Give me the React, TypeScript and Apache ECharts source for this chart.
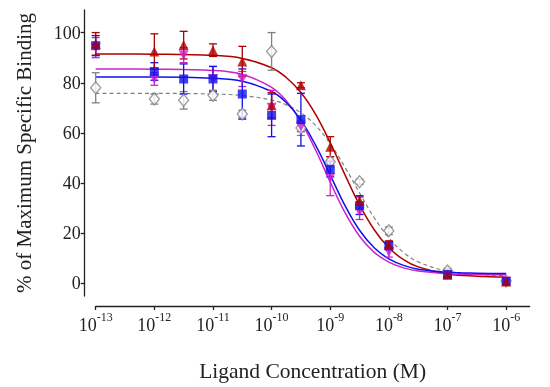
import React, { useEffect, useRef } from "react";
import * as echarts from "echarts";

// log10 of ligand concentration (M) for measured points
const pointLogConc = [-13, -12, -11.5, -11, -10.5, -10, -9.5, -9, -8.5, -8, -7, -6];

const redMean = [95.5, 92.5, 95, 93, 88.5, 71, 79, 54.5, 33, 15.5, 3.5, 0.8];
const redErr = [4.5, 7, 5.5, 2.5, 6, 5, 1, 4, 2, 1.5, 1, 0.8];

const magentaMean = [94, 81.5, 91, 81.5, 81.5, 70, 62.5, 42, 28.5, 12.5, 3.5, 0.8];
const magentaErr = [4, 2.5, 3, 5, 3, 7, 2, 7, 3, 2, 1, 0.8];

const blueMean = [94.8, 84.5, 81.5, 81.5, 75.5, 67, 65.3, 45.5, 31, 15, 3.5, 0.8];
const blueErr = [4, 3.5, 6, 5, 10, 8.5, 10.5, 3, 3.5, 1.5, 1, 0.8];

const grayMean = [78, 73.5, 73, 75, 67.5, 92.5, 62, 48.5, 40.5, 21, 5, 1];
const grayErr = [6, 2, 3.5, 2, 1.5, 7.5, 3, 2, 1, 1.5, 1, 0.5];

// fitted curves
const curveLogConc = [-13, -12, -11, -10.5, -10, -9.75, -9.5, -9.25, -9, -8.75, -8.5, -8.25, -8, -7.75, -7.5, -7, -6.5, -6];
const redFit = [91.5, 91.4, 90.9, 89.7, 86.0, 82.1, 76.1, 67.4, 56.1, 43.4, 31.3, 21.4, 14.2, 9.5, 6.6, 3.8, 2.9, 2.6];
const blueFit = [82.3, 82.3, 81.8, 80.6, 76.5, 72.1, 65.1, 55.1, 43.2, 31.1, 21.2, 14.2, 9.8, 7.2, 5.7, 4.5, 4.1, 4.0];
const magentaFit = [85.5, 85.4, 84.9, 83.3, 78.2, 72.8, 64.5, 53.2, 40.4, 28.3, 18.8, 12.4, 8.5, 6.2, 5.0, 3.9, 3.6, 3.5];
const grayFit = [75.8, 75.8, 75.5, 74.9, 73.1, 71.2, 68.0, 63.0, 55.7, 46.4, 36.1, 26.2, 18.2, 12.4, 8.6, 4.9, 3.6, 3.2];

const xTicks = [-13, -12, -11, -10, -9, -8, -7, -6];
const yTicks = [0, 20, 40, 60, 80, 100];

const FONT = "'Liberation Serif', 'DejaVu Serif', serif";
const RED = "#b00000";
const MAGENTA = "#cc22cc";
const BLUE = "#1010ee";
const GRAY = "#808080";

function pts(mean: number[]) {
  return pointLogConc.map((x, i) => [x, mean[i]]);
}
function errs(mean: number[], err: number[]) {
  return pointLogConc.map((x, i) => [x, mean[i] - err[i], mean[i] + err[i]]);
}
function curve(fit: number[]) {
  return curveLogConc.map((x, i) => [x, fit[i]]);
}

function errorSeries(name: string, mean: number[], err: number[], color: string) {
  return {
    type: "custom",
    name: name + "-err",
    data: errs(mean, err),
    encode: { x: 0, y: [1, 2] },
    z: 3,
    renderItem: (params: any, api: any) => {
      const x = api.value(0);
      const lo = api.coord([x, api.value(1)]);
      const hi = api.coord([x, api.value(2)]);
      const w = 4;
      const style = { stroke: color, lineWidth: 1.3 };
      return {
        type: "group",
        children: [
          { type: "line", shape: { x1: lo[0], y1: lo[1], x2: hi[0], y2: hi[1] }, style },
          { type: "line", shape: { x1: hi[0] - w, y1: hi[1], x2: hi[0] + w, y2: hi[1] }, style },
          { type: "line", shape: { x1: lo[0] - w, y1: lo[1], x2: lo[0] + w, y2: lo[1] }, style },
        ],
      };
    },
  };
}

function curveSeries(fit: number[], color: string, dashed = false) {
  return {
    type: "line",
    data: curve(fit),
    smooth: 0.4,
    showSymbol: false,
    symbol: "none",
    z: 2,
    lineStyle: { color, width: dashed ? 1.2 : 1.5, type: dashed ? [4, 3] : "solid" },
  };
}

export default function App() {
  const ref = useRef<HTMLDivElement>(null);
  useEffect(() => {
    if (!ref.current) return;
    const chart = echarts.init(ref.current, null, { renderer: "svg" });
    chart.setOption({
      animation: false,
      grid: { left: 95.7, right: 20.4, top: 10, bottom: 88.9 },
      xAxis: {
        type: "value",
        min: -13,
        max: -5.6,
        offset: 10,
        axisLine: { show: true, onZero: false, lineStyle: { color: "#222", width: 1.3 } },
        axisTick: { show: true, length: 4, customValues: xTicks, lineStyle: { color: "#222", width: 1.3 } },
        axisLabel: {
          customValues: xTicks,
          margin: 5,
          formatter: (v: number) => `{b|10}{s|${v}}`,
          rich: {
            b: { fontSize: 18, fontFamily: FONT, color: "#222", verticalAlign: "bottom", lineHeight: 23 },
            s: { fontSize: 12, fontFamily: FONT, color: "#222", verticalAlign: "top", lineHeight: 23 },
          },
        },
        splitLine: { show: false },
        name: "Ligand Concentration (M)",
        nameLocation: "middle",
        nameGap: 54,
        nameTextStyle: { fontSize: 21.5, fontFamily: FONT, color: "#222" },
      },
      yAxis: {
        type: "value",
        min: -5,
        max: 109,
        offset: 11,
        axisLine: { show: true, onZero: false, lineStyle: { color: "#222", width: 1.3 } },
        axisTick: { show: true, length: 4, customValues: yTicks, lineStyle: { color: "#222", width: 1.3 } },
        axisLabel: { customValues: yTicks, margin: 4, fontSize: 18, fontFamily: FONT, color: "#222" },
        splitLine: { show: false },
        name: "% of Maximum Specific Binding",
        nameLocation: "middle",
        nameRotate: 90,
        nameGap: 50,
        nameTextStyle: { fontSize: 21, fontFamily: FONT, color: "#222" },
      },
      series: [
        curveSeries(grayFit, GRAY, true),
        curveSeries(redFit, RED),
        curveSeries(magentaFit, MAGENTA),
        curveSeries(blueFit, BLUE),
        errorSeries("gray", grayMean, grayErr, GRAY),
        errorSeries("magenta", magentaMean, magentaErr, MAGENTA),
        errorSeries("blue", blueMean, blueErr, BLUE),
        errorSeries("red", redMean, redErr, RED),
        {
          type: "scatter",
          data: pts(grayMean),
          symbol: "diamond",
          symbolSize: [10, 12],
          z: 4,
          itemStyle: { color: "#fff", borderColor: GRAY, borderWidth: 1.3 },
        },
        {
          type: "scatter",
          data: pts(magentaMean),
          symbol: "triangle",
          symbolRotate: 180,
          symbolSize: 10,
          z: 4,
          itemStyle: { color: MAGENTA },
        },
        {
          type: "scatter",
          data: pts(blueMean),
          symbol: "rect",
          symbolSize: 9,
          z: 4,
          itemStyle: { color: BLUE },
        },
        {
          type: "scatter",
          data: pts(redMean),
          symbol: "triangle",
          symbolSize: 10,
          z: 4,
          itemStyle: { color: RED },
        },
      ],
    });
    return () => chart.dispose();
  }, []);
  return (
    <div
      ref={ref}
      style={{ position: "fixed", left: 0, top: 0, width: 550, height: 387 }}
    />
  );
}
